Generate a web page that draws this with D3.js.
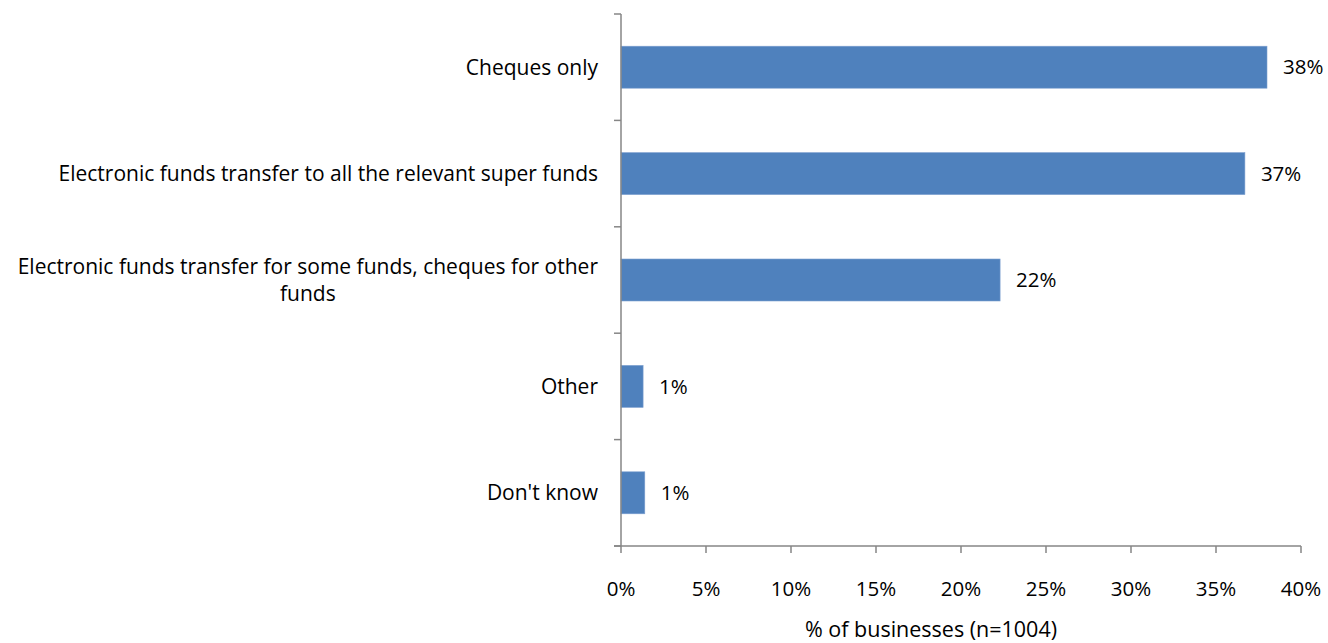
<!DOCTYPE html>
<html>
<head>
<meta charset="utf-8">
<script src="https://cdn.jsdelivr.net/npm/d3@7"></script>
<style>
  body { margin: 0; background: #fff; }
  svg { display: block; }
  text { font-family: "Open Sans", "Liberation Sans", Arial, sans-serif; fill: #000; }
</style>
</head>
<body>
<svg id="chart" width="1328" height="643"></svg>
<script>
const categories = [
  ["Cheques only"],
  ["Electronic funds transfer to all the relevant super funds"],
  ["Electronic funds transfer for some funds, cheques for other", "funds"],
  ["Other"],
  ["Don't know"]
];
const values = [38.0, 36.7, 22.3, 1.3, 1.4];
const xTicks = [0, 5, 10, 15, 20, 25, 30, 35, 40];
const xTitle = "% of businesses (n=1004)";

(function () {
const svg = d3.select("#chart");
const mLeft = 621, mRight = 1301, mTop = 14, mBottom = 546;
const axisColor = "#868686";
const fontSize = 21;

const x = d3.scaleLinear().domain([0, 40]).range([mLeft, mRight]);
const yb = d3.scaleBand().domain(d3.range(categories.length)).range([mTop, mBottom]);

// bars
svg.selectAll("rect.bar").data(values).join("rect")
  .attr("class", "bar")
  .attr("x", x(0))
  .attr("y", (d, i) => yb(i) + yb.bandwidth() / 2 - 21)
  .attr("width", d => x(d) - x(0))
  .attr("height", 42)
  .attr("fill", "#4F81BD")
  .attr("stroke", "#7EA0CF")
  .attr("stroke-width", 0.6);

// value labels
const fmt = d3.format(".0%");
svg.selectAll("text.val").data(values).join("text")
  .attr("class", "val")
  .attr("x", d => x(d) + 16)
  .attr("y", (d, i) => yb(i) + yb.bandwidth() / 2)
  .attr("dy", "0.35em")
  .attr("font-size", fontSize - 0.5)
  .text(d => fmt(d / 100));

// y axis line & ticks
const gy = svg.append("g");
gy.append("line").attr("x1", mLeft).attr("x2", mLeft).attr("y1", mTop).attr("y2", mBottom)
  .attr("stroke", axisColor).attr("stroke-width", 1.5);
const yTickPos = d3.range(categories.length + 1).map(i => mTop + i * yb.step());
gy.selectAll("line.t").data(yTickPos).join("line").attr("class", "t")
  .attr("x1", mLeft - 7).attr("x2", mLeft).attr("y1", d => d).attr("y2", d => d)
  .attr("stroke", axisColor).attr("stroke-width", 1.5);

// category labels
const labelRight = 598;
categories.forEach((lines, i) => {
  const cy = yb(i) + yb.bandwidth() / 2;
  if (lines.length === 1) {
    svg.append("text").attr("x", labelRight).attr("y", cy).attr("dy", "0.35em")
      .attr("text-anchor", "end").attr("font-size", fontSize).text(lines[0]);
  } else {
    const t = svg.append("text").attr("x", labelRight).attr("y", cy - 13.5).attr("dy", "0.35em")
      .attr("text-anchor", "end").attr("font-size", fontSize).text(lines[0]);
    const w = t.node().getComputedTextLength();
    svg.append("text").attr("x", labelRight - w / 2).attr("y", cy + 13.5).attr("dy", "0.35em")
      .attr("text-anchor", "middle").attr("font-size", fontSize).text(lines[1]);
  }
});

// x axis
const gx = svg.append("g");
gx.append("line").attr("x1", mLeft - 7).attr("x2", mRight).attr("y1", mBottom).attr("y2", mBottom)
  .attr("stroke", axisColor).attr("stroke-width", 1.5);
gx.selectAll("line.t").data(xTicks).join("line").attr("class", "t")
  .attr("x1", d => x(d)).attr("x2", d => x(d)).attr("y1", mBottom).attr("y2", mBottom + 7)
  .attr("stroke", axisColor).attr("stroke-width", 1.5);
gx.selectAll("text").data(xTicks).join("text")
  .attr("x", d => x(d)).attr("y", 589).attr("dy", "0.35em")
  .attr("text-anchor", "middle").attr("font-size", fontSize - 0.5)
  .text(d => d + "%");

svg.append("text").attr("x", 931).attr("y", 637)
  .attr("text-anchor", "middle").attr("font-size", fontSize + 0.5).text(xTitle);
})();
</script>
</body>
</html>
